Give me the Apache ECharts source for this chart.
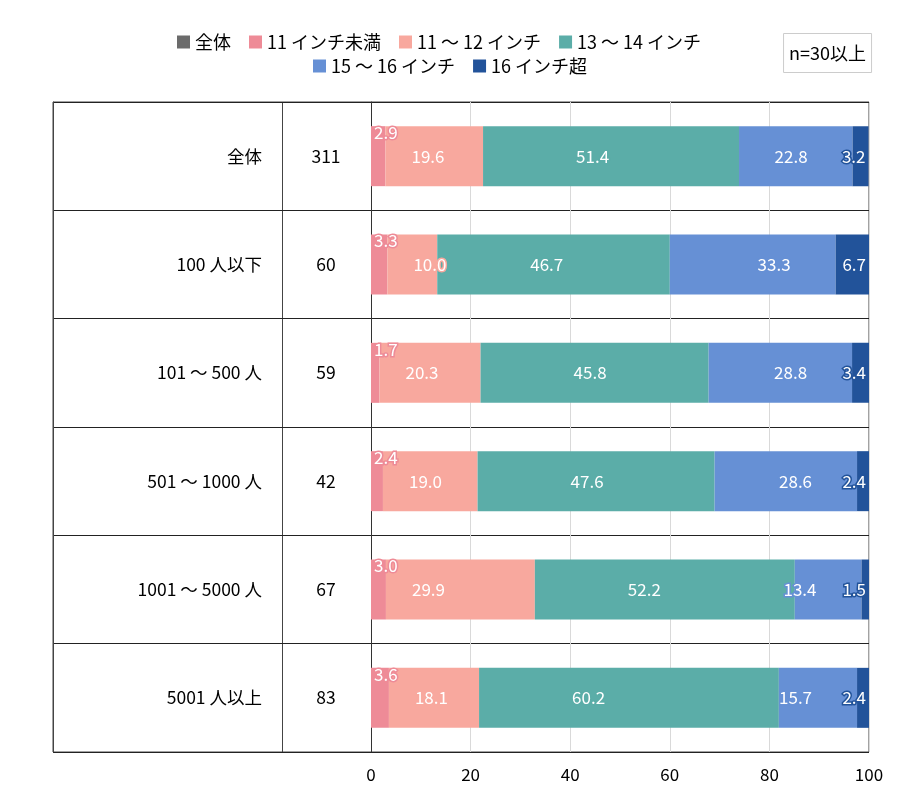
<!DOCTYPE html>
<html>
<head>
<meta charset="utf-8">
<script src="https://cdn.jsdelivr.net/npm/echarts@6/dist/echarts.min.js"></script>
<style>
  html, body { margin: 0; padding: 0; background: #fff; }
  #chart { width: 900px; height: 802px; }
</style>
</head>
<body>
<div id="chart"></div>
<script>
// rows, top to bottom
const categories = ['全体', '100 人以下', '101 ～ 500 人', '501 ～ 1000 人', '1001 ～ 5000 人', '5001 人以上'];
const nValues = ['311', '60', '59', '42', '67', '83'];

const seriesNames = ['11 インチ未満', '11 ～ 12 インチ', '13 ～ 14 インチ', '15 ～ 16 インチ', '16 インチ超'];
const under11 = [2.9, 3.3, 1.7, 2.4, 3.0, 3.6];
const from11to12 = [19.6, 10.0, 20.3, 19.0, 29.9, 18.1];
const from13to14 = [51.4, 46.7, 45.8, 47.6, 52.2, 60.2];
const from15to16 = [22.8, 33.3, 28.8, 28.6, 13.4, 15.7];
const over16 = [3.2, 6.7, 3.4, 2.4, 1.5, 2.4];

const xTicks = [0, 20, 40, 60, 80, 100];

const colors = ['#ee8b97', '#f8a89e', '#5bada8', '#6690d5', '#22539a'];
const font = '"Noto Sans CJK JP", "Noto Sans", sans-serif';

const chart = echarts.init(document.getElementById('chart'));

// label placement roughly as in the original sheet
function labelFor(idx) {
    const base = {
        show: true,
        color: '#fff',
        fontSize: 17,
        fontFamily: font,
        textBorderColor: colors[idx],
        textBorderWidth: 3,
        formatter: p => p.value.toFixed(1)
    };
    if (idx === 0) {
        base.position = [3, -2];
    } else if (idx === 1) {
        base.position = 'insideLeft';
        base.distance = 26;
    } else if (idx === 2) {
        base.position = 'insideLeft';
        base.distance = 93;
    } else if (idx === 3) {
        base.position = 'insideRight';
        base.distance = 45;
    } else {
        base.position = 'insideRight';
        base.distance = 3;
    }
    return base;
}

const values = [under11, from11to12, from13to14, from15to16, over16];
const series = [{
    name: '全体',
    type: 'bar',
    xAxisIndex: 1,
    yAxisIndex: 1,
    data: [],
    itemStyle: { color: '#6b6b6b' }
}];
values.forEach((arr, i) => {
    series.push({
        name: seriesNames[i],
        type: 'bar',
        stack: 'total',
        xAxisIndex: 1,
        yAxisIndex: 1,
        barWidth: 60,
        data: arr,
        itemStyle: { color: colors[i] },
        label: labelFor(i)
    });
});

const legendText = { fontSize: 18, color: '#000', fontFamily: font };

const option = {
    animation: false,
    textStyle: { fontFamily: font },
    title: {
        text: 'n=30以上',
        right: 28,
        top: 33,
        padding: [11, 6],
        borderColor: '#cccccc',
        borderWidth: 1,
        textStyle: { fontSize: 18, fontWeight: 'normal', color: '#000', fontFamily: font }
    },
    legend: [{
        data: ['全体', seriesNames[0], seriesNames[1], seriesNames[2]],
        left: 172,
        top: 28,
        icon: 'rect',
        itemWidth: 13,
        itemHeight: 13,
        itemGap: 18,
        textStyle: legendText
    }, {
        data: [seriesNames[3], seriesNames[4]],
        left: 308,
        top: 52,
        icon: 'rect',
        itemWidth: 13,
        itemHeight: 13,
        itemGap: 18,
        textStyle: legendText
    }],
    grid: [{
        // whole table
        left: 53, top: 102, width: 816, height: 650,
        show: true, borderColor: '#444', borderWidth: 1
    }, {
        // bar area
        left: 371, top: 102, width: 498, height: 650
    }],
    xAxis: [{
        gridIndex: 0, type: 'value', min: 0, max: 1, show: false
    }, {
        gridIndex: 1,
        type: 'value',
        min: xTicks[0],
        max: xTicks[xTicks.length - 1],
        interval: 20,
        axisLine: { show: false },
        axisTick: { show: false },
        splitLine: { lineStyle: { color: '#d9d9d9' } },
        axisLabel: { fontSize: 17, color: '#000', margin: 14, fontFamily: font }
    }],
    yAxis: [{
        gridIndex: 0,
        type: 'category',
        inverse: true,
        data: categories,
        axisLine: { show: true, lineStyle: { color: '#444' } },
        axisTick: { show: false },
        axisLabel: { show: false },
        splitLine: { show: true, lineStyle: { color: '#222', width: 1 } }
    }, {
        gridIndex: 1,
        type: 'category',
        inverse: true,
        data: categories,
        axisLine: { show: true, lineStyle: { color: '#333' } },
        axisTick: { show: false },
        axisLabel: { fontSize: 17.5, color: '#000', margin: 109, fontFamily: font }
    }, {
        gridIndex: 1,
        type: 'category',
        position: 'left',
        inverse: true,
        data: nValues,
        axisLine: { show: false },
        axisTick: { show: false },
        axisLabel: { fontSize: 17.5, color: '#000', margin: 45, align: 'center', fontFamily: font }
    }],
    graphic: [{
        // column divider between labels and n
        type: 'line',
        shape: { x1: 282.5, y1: 102, x2: 282.5, y2: 752 },
        style: { stroke: '#444', lineWidth: 1 }
    }],
    series: series
};

chart.setOption(option);
</script>
</body>
</html>
